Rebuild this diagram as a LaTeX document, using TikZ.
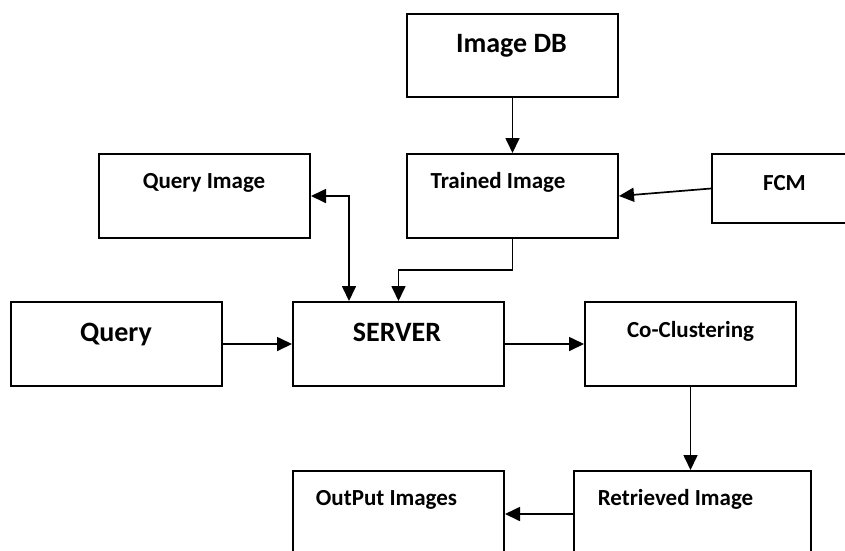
\documentclass[tikz,border=0pt]{standalone}
\usepackage{fontspec}
\setmainfont{Carlito}
\usetikzlibrary{arrows.meta}

\tikzset{
  box/.style={draw=black, line width=2pt, rectangle, inner sep=0pt, fill=white},
  bigtxt/.style={anchor=base, inner sep=0pt, font=\bfseries\fontsize{28}{30}\selectfont},
  smalltxt/.style={anchor=base, inner sep=0pt, font=\bfseries\fontsize{23}{26}\selectfont},
  tip/.style={Triangle[length=15pt,width=14pt]},
  flow/.style={line width=1.7pt, -{Triangle[length=15pt,width=14pt]}},
  flowboth/.style={line width=1.7pt, {Triangle[length=15pt,width=14pt]}-{Triangle[length=15pt,width=14pt]}}
}

\begin{document}
\begin{tikzpicture}[x=1pt, y=-1pt]
  \useasboundingbox (0,0) rectangle (845,550);
  \fill[white] (0,0) rectangle (845,550);
  \clip (0,0) rectangle (845,550);

  % boxes
  \node[box, minimum width=211pt, minimum height=83pt] (db)      at (512.5,55.5)  {};
  \node[box, minimum width=211pt, minimum height=84pt] (trained) at (512.5,196)   {};
  \node[box, minimum width=211pt, minimum height=69pt] (fcm)     at (817.5,188.5) {};
  \node[box, minimum width=211pt, minimum height=84pt] (qimg)    at (204.5,196)   {};
  \node[box, minimum width=211pt, minimum height=84pt] (query)   at (116.5,344)   {};
  \node[box, minimum width=211pt, minimum height=84pt] (server)  at (398.5,344)   {};
  \node[box, minimum width=211pt, minimum height=84pt] (cocl)    at (690.5,344)   {};
  \node[box, minimum width=237pt, minimum height=86pt] (retr)    at (692.5,514)   {};
  \node[box, minimum width=211pt, minimum height=86pt] (out)     at (398.5,514)   {};

  % labels
  \node[bigtxt]   (dbT)      at (511.5,52.5) {Image DB};
  \node[smalltxt] (trainedT) at (498,188.3)  {Trained Image};
  \node[smalltxt] (fcmT)     at (784.5,190.5){FCM};
  \node[smalltxt] (qimgT)    at (204,188.3)  {Query Image};
  \node[bigtxt]   (queryT)   at (116,341)    {Query};
  \node[bigtxt]   (serverT)  at (397,341)    {SERVER};
  \node[smalltxt] (coclT)    at (690.5,337.7){Co-Clustering};
  \node[smalltxt] (outT)     at (386.5,505)  {OutPut Images};
  \node[smalltxt] (retrT)    at (675.5,505)  {Retrieved Image};

  % connectors
  \draw[flow] (db.south) -- (trained.north);
  \draw[flow] (fcm.west) -- (trained.east);
  \draw[flowboth] (qimg.east) -| ([xshift=57pt]server.north west);
  \draw[flow] (trained.south) -- ++(0,31) -| (server.north);
  \draw[flow] (query.east) -- (server.west);
  \draw[flow] (server.east) -- (cocl.west);
  \draw[flow] (cocl.south) -- (cocl.south |- retr.north);
  \draw[flow] (retr.west) -- (out.east);
\end{tikzpicture}
\end{document}
